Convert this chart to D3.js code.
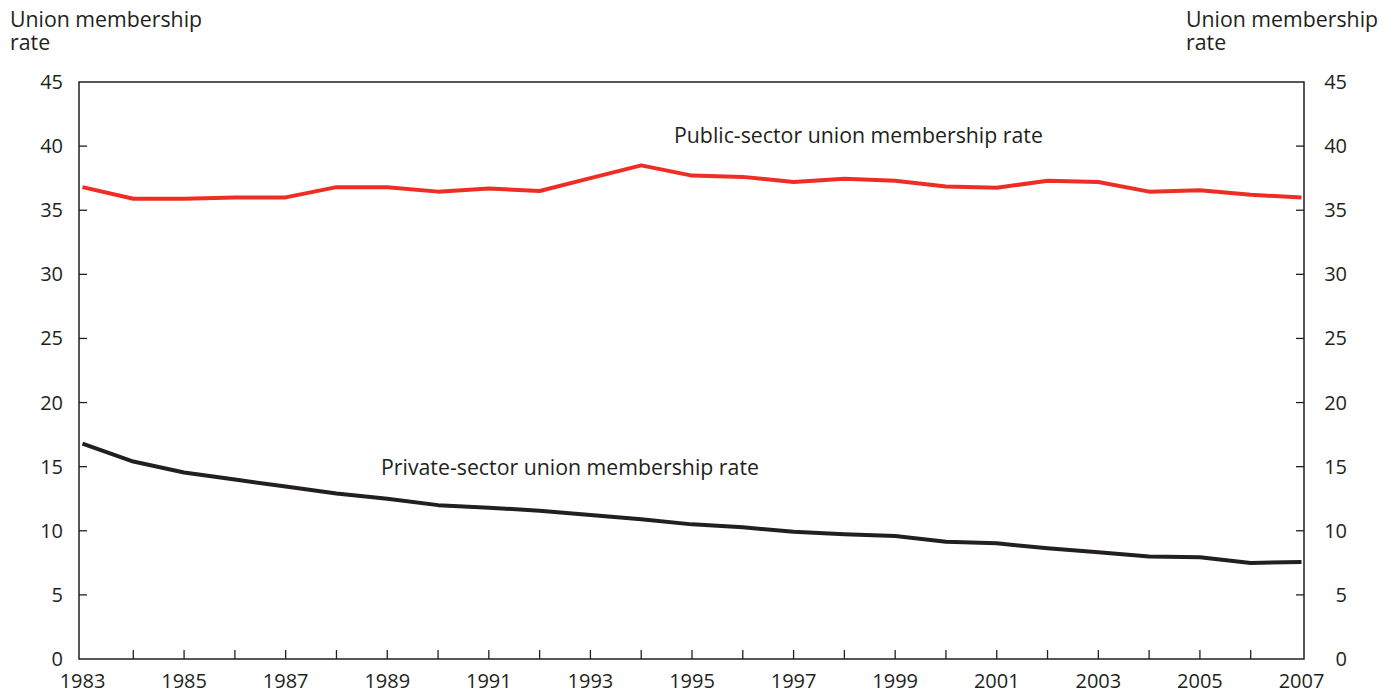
<!DOCTYPE html>
<html>
<head>
<meta charset="utf-8">
<script src="https://cdn.jsdelivr.net/npm/d3@7"></script>
<style>
  html, body { margin: 0; padding: 0; background: #fff; }
  svg { display: block; }
  text { font-family: "Open Sans", "Noto Sans", sans-serif; fill: #231f20; }
</style>
</head>
<body>
<svg id="chart" width="1395" height="694"></svg>
<script>
const years = d3.range(1983, 2008);
const publicRate = [36.8, 35.9, 35.9, 36.0, 36.0, 36.8, 36.8, 36.45, 36.7, 36.5, 37.5, 38.5, 37.7, 37.6, 37.2, 37.45, 37.3, 36.85, 36.75, 37.3, 37.2, 36.45, 36.55, 36.2, 36.0];
const privateRate = [16.8, 15.4, 14.55, 14.0, 13.45, 12.9, 12.5, 12.0, 11.8, 11.57, 11.23, 10.9, 10.5, 10.27, 9.93, 9.72, 9.59, 9.15, 9.02, 8.63, 8.32, 8.0, 7.93, 7.49, 7.57];
const yTicks = [0, 5, 10, 15, 20, 25, 30, 35, 40, 45];
const xLabelYears = [1983, 1985, 1987, 1989, 1991, 1993, 1995, 1997, 1999, 2001, 2003, 2005, 2007];
const yAxisTitle = ["Union membership", "rate"];
const publicLabel = "Public-sector union membership rate";
const privateLabel = "Private-sector union membership rate";

(function () {
const svg = d3.select("#chart");
const pLeft = 79, pRight = 1304, pTop = 82, pBottom = 659;
const ink = "#231f20";
const wordSize = 21.3;

const x = d3.scaleLinear().domain([1983, 2007]).range([82.5, 1301.5]);
const y = d3.scaleLinear().domain([0, 45]).range([pBottom, pTop]);

svg.append("path")
  .attr("d", `M${pLeft},${y(45)}V${pBottom}H${pRight}V${y(45)}Z`)
  .attr("fill", "none").attr("stroke", ink).attr("stroke-width", 1.5);

const yt = yTicks.filter(v => v > 0 && v < 45);
svg.append("g").selectAll("line").data(yt).join("line")
  .attr("x1", pLeft).attr("x2", pLeft + 8)
  .attr("y1", d => y(d)).attr("y2", d => y(d))
  .attr("stroke", ink).attr("stroke-width", 1.3);
svg.append("g").selectAll("line").data(yt).join("line")
  .attr("x1", pRight - 8).attr("x2", pRight)
  .attr("y1", d => y(d)).attr("y2", d => y(d))
  .attr("stroke", ink).attr("stroke-width", 1.3);

svg.append("g").selectAll("text").data(yTicks).join("text")
  .attr("x", 63).attr("y", d => y(d) + 7)
  .attr("text-anchor", "end").attr("font-size", 20).text(d => d);
svg.append("g").selectAll("text").data(yTicks).join("text")
  .attr("x", 1347).attr("y", d => y(d) + 7)
  .attr("text-anchor", "end").attr("font-size", 20).text(d => d);

svg.append("g").selectAll("line").data(years.filter(v => v > 1983 && v < 2007)).join("line")
  .attr("x1", d => x(d)).attr("x2", d => x(d))
  .attr("y1", pBottom).attr("y2", pBottom - 9)
  .attr("stroke", ink).attr("stroke-width", 1.3);

svg.append("g").selectAll("text").data(xLabelYears).join("text")
  .attr("x", d => x(d)).attr("y", 688)
  .attr("text-anchor", "middle").attr("font-size", 20).text(d => d);

[10, 1186].forEach(tx => {
  yAxisTitle.forEach((s, i) => svg.append("text")
    .attr("x", tx).attr("y", 27 + i * 23).attr("font-size", wordSize).text(s));
});

const line = d3.line().x((d, i) => x(years[i])).y(d => y(d));
svg.append("path").datum(publicRate).attr("d", line)
  .attr("fill", "none").attr("stroke", "#ee2e24").attr("stroke-width", 4).attr("stroke-linejoin", "round");
svg.append("path").datum(privateRate).attr("d", line)
  .attr("fill", "none").attr("stroke", ink).attr("stroke-width", 4).attr("stroke-linejoin", "round");

svg.append("text").attr("x", 674).attr("y", 143).attr("font-size", wordSize).text(publicLabel);
svg.append("text").attr("x", 381).attr("y", 475).attr("font-size", wordSize).text(privateLabel);
})();
</script>
</body>
</html>
